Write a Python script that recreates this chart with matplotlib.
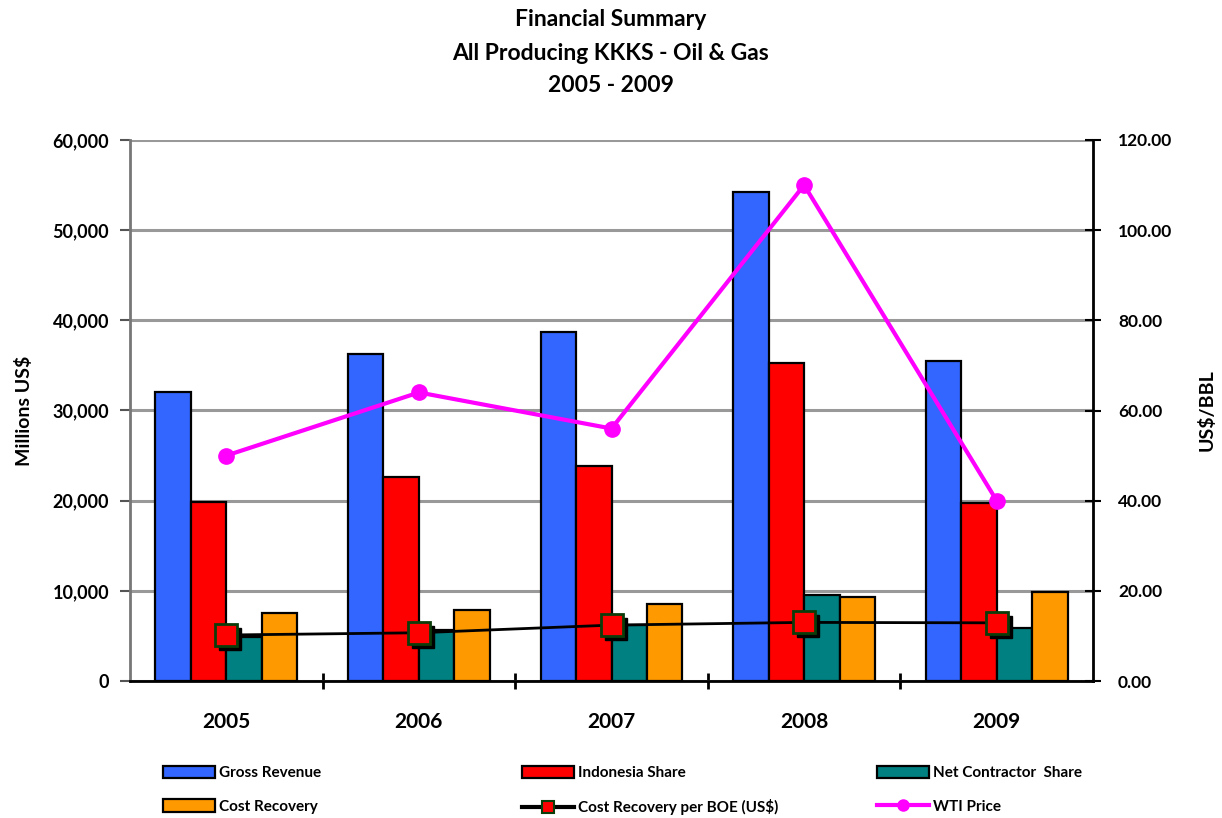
import numpy as np
import matplotlib
matplotlib.use("Agg")
import matplotlib.pyplot as plt
from matplotlib.transforms import offset_copy
from matplotlib.ticker import FuncFormatter
from matplotlib.lines import Line2D

plt.rcParams['font.family'] = ['Lato', 'DejaVu Sans']
plt.rcParams['font.weight'] = 'bold'

# data
years = ['2005', '2006', '2007', '2008', '2009']
gross_revenue = [32000, 36300, 38700, 54200, 35500]
indonesia_share = [19900, 22600, 23800, 35300, 19700]
net_contractor = [4900, 5650, 6200, 9500, 5850]
cost_recovery = [7550, 7850, 8500, 9350, 9900]
cr_per_boe = [10.2, 10.7, 12.4, 13.0, 12.9]
wti_price = [50.0, 64.0, 56.0, 110.0, 40.0]

fig = plt.figure(figsize=(12.22, 8.18), dpi=100)
ax = fig.add_axes([130/1222, 1-681/818, 963/1222, 541/818])
ax2 = ax.twinx()

x = np.arange(len(years))
w = 0.184
bar_kw = dict(width=w, edgecolor='black', linewidth=1.6, zorder=3)
b1 = ax.bar(x - 1.5*w, gross_revenue, color='#3366FF', label='Gross Revenue', **bar_kw)
b2 = ax.bar(x - 0.5*w, indonesia_share, color='#FF0000', label='Indonesia Share', **bar_kw)
b3 = ax.bar(x + 0.5*w, net_contractor, color='#008080', label='Net Contractor  Share', **bar_kw)
b4 = ax.bar(x + 1.5*w, cost_recovery, color='#FF9900', label='Cost Recovery', **bar_kw)

ax.set_xlim(-0.5, 4.5)
ax.set_ylim(0, 60000)
ax.set_yticks(np.arange(0, 60001, 10000))
ax.yaxis.set_major_formatter(FuncFormatter(lambda v, p: '{:,.0f}'.format(v)))
ax.grid(axis='y', color='#999999', linewidth=2.2, zorder=0)
ax.set_axisbelow(True)
ax.set_xticks(x)
ax.set_xticklabels(years, fontsize=15, fontweight='bold')
ax.set_xticks(np.arange(0.5, 4.5, 1), minor=True)
ax.tick_params(axis='x', which='major', length=0, pad=22)
ax.tick_params(axis='x', which='minor', direction='inout', length=12, width=2)
ax.tick_params(axis='y', direction='out', length=7, width=1.5, labelsize=13, color='#555555', pad=8)
for lbl in ax.get_yticklabels():
    lbl.set_fontweight('bold')
ax.set_ylabel('Millions US$', fontsize=14, fontweight='bold', labelpad=14)

ax.spines['top'].set_visible(False)
ax.spines['left'].set_color('#777777')
ax.spines['left'].set_linewidth(2)
ax.spines['bottom'].set_linewidth(2)
ax2.spines['top'].set_visible(False)
ax2.spines['left'].set_visible(False)
ax2.spines['bottom'].set_visible(False)
ax2.spines['right'].set_linewidth(2)

ax2.set_ylim(0, 120)
ax2.set_yticks(np.arange(0, 121, 20))
ax2.yaxis.set_major_formatter(FuncFormatter(lambda v, p: '%.2f' % v))
ax2.tick_params(axis='y', direction='inout', length=12, width=1.5, labelsize=12.5, pad=12)
for lbl in ax2.get_yticklabels():
    lbl.set_fontweight('bold')
ax2.set_ylabel('US$/BBL', fontsize=14, fontweight='bold', labelpad=18)

# cost recovery per BOE with a drop shadow under the markers
shadow = offset_copy(ax2.transData, fig=fig, x=4, y=-4, units='dots')
ax2.plot(x, cr_per_boe, linestyle='none', marker='s', markersize=16,
         color='black', transform=shadow, zorder=4)
ax2.plot(x, cr_per_boe, color='black', linewidth=2, marker='s', markersize=16,
         markerfacecolor='#FF0000', markeredgecolor='#0B3D0B', markeredgewidth=2, zorder=5)
ax2.plot(x, wti_price, color='#FF00FF', linewidth=3, marker='o', markersize=11, zorder=6)

fig.text(0.5, 1-20/818, 'Financial Summary', ha='center', va='center', fontsize=16.5, fontweight='bold')
fig.text(0.5, 1-53/818, 'All Producing KKKS - Oil & Gas', ha='center', va='center', fontsize=16.5, fontweight='bold')
fig.text(0.5, 1-86/818, '2005 - 2009', ha='center', va='center', fontsize=16.5, fontweight='bold')

# legend proxies (smaller markers than on the plot)
l1 = Line2D([], [], color='black', linewidth=3, marker='s', markersize=8,
            markerfacecolor='#FF0000', markeredgecolor='#0B3D0B', markeredgewidth=1.5,
            label='Cost Recovery per BOE (US$)')
l2 = Line2D([], [], color='#FF00FF', linewidth=3, marker='o', markersize=8, label='WTI Price')

# three legend columns placed under the chart
leg_kw = dict(loc='upper left', frameon=False, fontsize=11, handlelength=3.4,
              handleheight=0.9, labelspacing=1.25, handletextpad=0.3, borderpad=0)
cols = [([b1, b4], 155), ([b2, l1], 514), ([b3, l2], 869)]
for handles, px in cols:
    fig.legend(handles, [h.get_label() for h in handles],
               bbox_to_anchor=(px/1222, 1-758/818), **leg_kw)

fig.savefig('out.png', dpi=100)
